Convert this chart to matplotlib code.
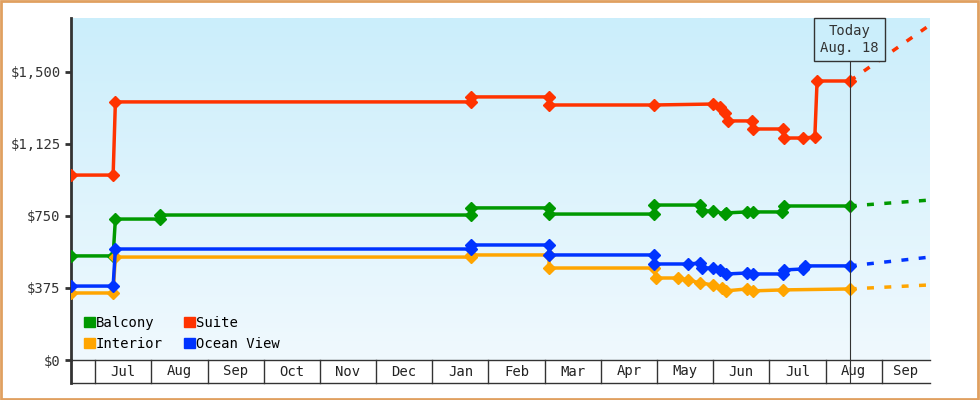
import matplotlib
matplotlib.use("Agg")
import matplotlib.pyplot as plt
import matplotlib.patches as mpatches
import matplotlib.transforms as mtrans
import numpy as np

plt.rcParams['font.family'] = ['DejaVu Sans Mono']

months = ["Jul", "Aug", "Sep", "Oct", "Nov", "Dec", "Jan", "Feb", "Mar", "Apr", "May", "Jun", "Jul", "Aug", "Sep"]
yticks = [0, 375, 750, 1125, 1500]
ytick_labels = ["$0", "$375", "$750", "$1,125", "$1,500"]

# x in months since Jul 1 (first year)
balcony_x = [-0.43, 0.32, 0.36, 1.16, 1.16, 6.69, 6.69, 8.08, 8.08, 9.95, 9.95, 10.77, 10.80, 11.0, 11.21, 11.23, 11.60, 11.71, 12.22, 12.26, 13.43]
balcony_y = [542, 542, 734, 734, 755, 755, 792, 792, 760, 760, 807, 807, 776, 776, 760, 766, 771, 771, 771, 802, 802]
suite_x = [-0.43, 0.32, 0.36, 6.69, 6.69, 8.08, 8.08, 9.95, 11.0, 11.12, 11.21, 11.26, 11.69, 11.71, 12.24, 12.26, 12.60, 12.81, 12.85, 13.43]
suite_y = [963, 963, 1344, 1344, 1370, 1370, 1328, 1328, 1333, 1318, 1286, 1245, 1245, 1203, 1203, 1156, 1156, 1161, 1453, 1453]
ocean_x = [-0.43, 0.32, 0.36, 6.69, 6.69, 8.08, 8.08, 9.95, 9.95, 10.55, 10.77, 10.80, 11.0, 11.12, 11.23, 11.60, 11.71, 12.24, 12.26, 12.60, 12.63, 13.43]
ocean_y = [385, 385, 578, 578, 599, 599, 547, 547, 500, 500, 505, 479, 479, 469, 448, 453, 448, 448, 469, 474, 490, 490]
interior_x = [-0.43, 0.32, 0.36, 6.69, 6.69, 8.08, 8.08, 9.95, 9.98, 10.37, 10.55, 10.77, 11.0, 11.16, 11.23, 11.60, 11.71, 12.24, 13.43]
interior_y = [349, 349, 536, 536, 547, 547, 479, 479, 427, 427, 417, 401, 391, 375, 360, 370, 360, 365, 370]
forecast_x = [13.43, 14.86]
balcony_fc = [802, 833]
suite_fc = [1453, 1745]
ocean_fc = [490, 536]
interior_fc = [370, 391]
today_x = 13.43

colors = {"Balcony": "#009900", "Suite": "#ff3300", "Interior": "#ffa500", "Ocean View": "#0033ff"}

fig = plt.figure(figsize=(9.8, 4.0), dpi=100)
fig.patch.set_facecolor("white")
fig.add_artist(mpatches.Rectangle((0.001, 0.002), 0.997, 0.995, transform=fig.transFigure,
                                  fill=False, edgecolor="#e0a060", linewidth=2))
ax = fig.add_axes([71/980, 40/400, 859/980, 342/400])
ax.set_xlim(-0.43, 14.86)
ax.set_ylim(0, 1781)

grad = np.linspace(0, 1, 256).reshape(-1, 1)
from matplotlib.colors import LinearSegmentedColormap
cmap = LinearSegmentedColormap.from_list("bg", ["#f0f9fe", "#cbeefb"])
ax.imshow(grad, extent=[0, 1, 0, 1], transform=ax.transAxes, cmap=cmap, aspect="auto", origin="lower", zorder=0)

for name, xs, ys, fc in [("Balcony", balcony_x, balcony_y, balcony_fc),
                         ("Interior", interior_x, interior_y, interior_fc),
                         ("Ocean View", ocean_x, ocean_y, ocean_fc),
                         ("Suite", suite_x, suite_y, suite_fc)]:
    c = colors[name]
    ax.plot(xs, ys, color=c, lw=2.5, marker="D", ms=6, zorder=3)
    ax.plot(forecast_x, fc, color=c, lw=2.5, ls=(0, (2, 3)), zorder=3, clip_on=False)

trans = mtrans.blended_transform_factory(ax.transData, ax.transAxes)
box_y = -23/342
ax.plot([today_x, today_x], [box_y, 0.87], color="#333333", lw=0.8, transform=trans, clip_on=False, zorder=4)
ax.text(today_x, 0.937, "Today\nAug. 18", transform=trans, ha="center", va="center", fontsize=10, color="#333333",
        bbox=dict(boxstyle="square,pad=0.45", fc="#cbeefb", ec="#333333", lw=1), zorder=5, linespacing=1.3)

# bottom month boxes
for b in range(0, 15):
    ax.plot([b, b], [0, box_y], color="#333333", lw=1, transform=trans, clip_on=False)
ax.plot([0, 1], [box_y, box_y], color="#333333", lw=1, transform=ax.transAxes, clip_on=False)
for i, m in enumerate(months):
    right = min(i + 1, 14.86)
    ax.text((i + right) / 2, box_y / 2, m, transform=trans, ha="center", va="center", fontsize=10, color="#222222")

for s in ["top", "right", "bottom"]:
    ax.spines[s].set_visible(False)
ax.spines["left"].set_color("#333333")
ax.spines["left"].set_linewidth(2)
ax.spines["left"].set_bounds(0, 1781)
ax.plot([0, 0], [box_y, 0], color="#333333", lw=2, transform=ax.transAxes, clip_on=False)
ax.plot([0, 1], [0, 0], color="#333333", lw=1, transform=ax.transAxes, clip_on=False)
ax.set_xticks([])
ax.set_yticks(yticks)
ax.set_yticklabels(ytick_labels, fontsize=10, color="#333333")
ax.tick_params(axis="y", length=4, width=2, color="#333333")

handles = [mpatches.Patch(color=colors[n], label=n) for n in ["Balcony", "Interior", "Suite", "Ocean View"]]
ax.legend(handles=handles, ncol=2, loc="lower left", bbox_to_anchor=(0.0, -0.01), frameon=False,
          fontsize=10, handlelength=0.8, handleheight=0.8, handletextpad=0.1, columnspacing=1.5, labelspacing=0.5)

fig.savefig("out.png", dpi=100)
